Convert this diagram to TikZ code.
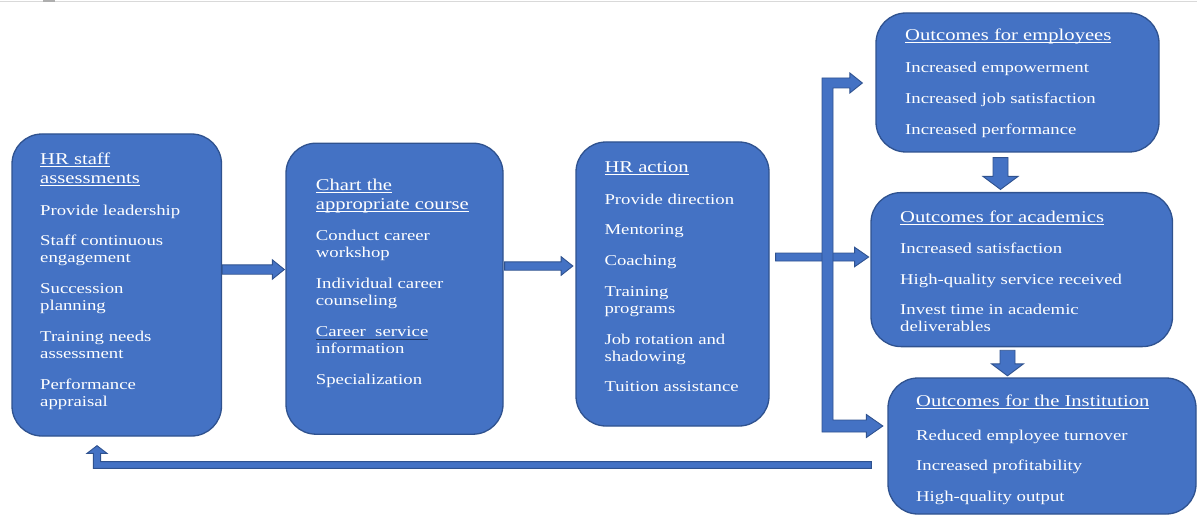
\documentclass[tikz,border=0pt]{standalone}
\usepackage{fontspec}
\setmainfont{Liberation Serif}[FakeStretch=1.25]
\usetikzlibrary{calc}

\definecolor{boxfill}{HTML}{4472C4}
\definecolor{boxline}{HTML}{2F528F}
\definecolor{markline}{HTML}{203864}
\definecolor{topline}{HTML}{D9D9D9}

% underline at a fixed depth below the baseline (runs through descenders)
\newcommand\uline[1]{\setbox0\hbox{#1}\rlap{\rule[-2.4pt]{\wd0}{0.9pt}}\box0}
\newcommand\markul[1]{\setbox0\hbox{#1}\rlap{\textcolor{markline}{\rule[-3pt]{\wd0}{0.8pt}}}\box0}

% straight block arrow: from, to, shaft half width, head half width, head length
\newcommand\bkarrow[5]{%
  \filldraw[blockarr]
    ($(#1)!#3!90:(#2)$) --
    ($(#2)!#5!(#1)!#3!90:(#2)$) --
    ($(#2)!#5!(#1)!#4!90:(#2)$) --
    (#2) --
    ($(#2)!#5!(#1)!#4!-90:(#2)$) --
    ($(#2)!#5!(#1)!#3!-90:(#2)$) --
    ($(#1)!#3!-90:(#2)$) -- cycle;}

\begin{document}
\begin{tikzpicture}[x=1pt, y=-1pt,
  box/.style={draw=boxline, fill=boxfill, line width=1.3pt, rounded corners=30pt, inner sep=0pt},
  blockarr/.style={draw=boxline, fill=boxfill, line width=0.9pt, line join=miter},
  ttl/.style={anchor=north west, inner sep=0pt, align=left, text=white,
    font=\fontsize{16.5}{19.2}\selectfont},
  itm/.style={anchor=north west, inner sep=0pt, align=left, text=white,
    font=\fontsize{15}{17}\selectfont}]
\useasboundingbox (0,0) rectangle (1197,516);

% thin rule along the top edge
\draw[topline, line width=1pt] (0,1.5) -- (1197,1.5);
\fill[topline!80!black] (43,0) rectangle (55,2.2);

% boxes
\node[box, minimum width=209.5pt, minimum height=302pt] (hrs)   at (116.75,285)  {};
\node[box, minimum width=217pt,   minimum height=291pt] (chart) at (394.5,288.7) {};
\node[box, minimum width=193pt,   minimum height=284pt] (act)   at (672.5,284)   {};
\node[box, minimum width=283pt,   minimum height=139pt] (emp)   at (1017.5,82.5) {};
\node[box, minimum width=301.5pt, minimum height=154pt] (aca)   at (1021.75,269.6) {};
\node[box, minimum width=308pt,   minimum height=136pt] (inst)  at (1042,446)    {};

% box texts (north edge placed 14pt / 13pt above the first baseline)
\node[ttl] (hrs-t) at (40,150) {\rule{0pt}{14pt}\uline{HR staff}\\\uline{assessments}};
\node[itm] (hrs-i) at (40,202) {\rule{0pt}{13pt}Provide leadership\\[13.7pt]
  Staff continuous\\engagement\\[13.7pt]
  Succession\\planning\\[13.7pt]
  Training needs\\assessment\\[13.7pt]
  Performance\\appraisal};

\node[ttl] (chart-t) at (315.7,176) {\rule{0pt}{14pt}\uline{Chart the}\\\uline{appropriate course}};
\node[itm] (chart-i) at (315.7,227.7) {\rule{0pt}{13pt}Conduct career\\workshop\\[13.7pt]
  Individual career\\counseling\\[13.7pt]
  \markul{Career\ \ service}\\information\\[13.7pt]
  Specialization};

\node[ttl] (act-t) at (604.3,158.3) {\rule{0pt}{14pt}\uline{HR action}};
\node[itm] (act-i) at (604.3,191) {\rule{0pt}{13pt}Provide direction\\[13.7pt]
  Mentoring\\[13.7pt]
  Coaching\\[13.7pt]
  Training\\programs\\[13.7pt]
  Job rotation and\\shadowing\\[13.7pt]
  Tuition assistance};

\node[ttl] (emp-t) at (905,26.7) {\rule{0pt}{14pt}\uline{Outcomes for employees}};
\node[itm] (emp-i) at (905,59.7) {\rule{0pt}{13pt}Increased empowerment\\[13.7pt]
  Increased job satisfaction\\[13.7pt]
  Increased performance};

\node[ttl] (aca-t) at (900,208.3) {\rule{0pt}{14pt}\uline{Outcomes for academics}};
\node[itm] (aca-i) at (900,240.3) {\rule{0pt}{13pt}Increased satisfaction\\[13.7pt]
  High-quality service received\\[13.7pt]
  Invest time in academic\\deliverables};

\node[ttl] (inst-t) at (916,392.7) {\rule{0pt}{14pt}\uline{Outcomes for the Institution}};
\node[itm] (inst-i) at (916,427) {\rule{0pt}{13pt}Reduced employee turnover\\[13.7pt]
  Increased profitability\\[13.7pt]
  High-quality output};

% arrow end points
\coordinate (a1s) at (hrs.east |- 0,269.5);
\coordinate (a1e) at ($(chart.west |- 0,269.5)+(-1,0)$);
\coordinate (a2s) at ($(chart.east |- 0,266)+(1,0)$);
\coordinate (a2e) at ($(act.west |- 0,266)+(-2.5,0)$);
\coordinate (a3s) at ($(act.east |- 0,257)+(6,0)$);
\coordinate (a3e) at ($(aca.west |- 0,257)+(-1.7,0)$);
\coordinate (d1s) at ($(emp.south -| 1000.5,0)+(0,5)$);
\coordinate (d1e) at ($(aca.north -| d1s)+(0,-2.5)$);
\coordinate (d2s) at ($(aca.south -| 1007.5,0)+(0,3)$);
\coordinate (d2e) at ($(inst.north -| d2s)+(0,-1.5)$);
\coordinate (brt) at (827.5,83);
\coordinate (brb) at (827.5,426);
\coordinate (brt-e) at ($(emp.west |- brt)+(-13,0)$);
\coordinate (brb-e) at ($(inst.west |- brb)+(-4.5,0)$);
\coordinate (fbs) at ($(inst.west |- 0,465)+(-16,0)$);
\coordinate (fbc) at (97,465);
\coordinate (fbt) at ($(hrs.south -| fbc)+(0,9)$);

% straight block arrows
\bkarrow{a1s}{a1e}{4.7pt}{9.7pt}{12pt}
\bkarrow{a2s}{a2e}{4.2pt}{9.3pt}{11.7pt}
\bkarrow{a3s}{a3e}{4pt}{9.7pt}{14pt}
\bkarrow{d1s}{d1e}{7.5pt}{17.5pt}{13pt}
\bkarrow{d2s}{d2e}{7.5pt}{16pt}{12pt}

% bracket feeding the employee and institution outcomes
\filldraw[blockarr] let \p1=(brt), \p2=(brb), \p3=(brt-e), \p4=(brb-e) in
  (\x1-5.5pt,\y1+5pt) -- (\x3-12.5pt,\y1+5pt) -- (\x3-12.5pt,\y1+10pt) -- (\x3,\y1)
  -- (\x3-12.5pt,\y1-10pt) -- (\x3-12.5pt,\y1-5pt) -- (\x1+5.5pt,\y1-5pt)
  -- (\x1+5.5pt,\y2+6pt) -- (\x4-16.5pt,\y2+6pt) -- (\x4-16.5pt,\y2+11.5pt) -- (\x4,\y2)
  -- (\x4-16.5pt,\y2-11.5pt) -- (\x4-16.5pt,\y2-6pt) -- (\x1-5.5pt,\y2-6pt) -- cycle;

% feedback arrow back to the staff assessments
\filldraw[blockarr] let \p1=(fbs), \p2=(fbc), \p3=(fbt) in
  (\x1,\y1+3.4pt) -- (\x2+3.6pt,\y1+3.4pt) -- (\x2+3.6pt,\y3-7.7pt) -- (\x2+10pt,\y3-7.7pt)
  -- (\x2,\y3) -- (\x2-10pt,\y3-7.7pt) -- (\x2-3.6pt,\y3-7.7pt) -- (\x2-3.6pt,\y1-3.4pt)
  -- (\x1,\y1-3.4pt) -- cycle;
\end{tikzpicture}
\end{document}
